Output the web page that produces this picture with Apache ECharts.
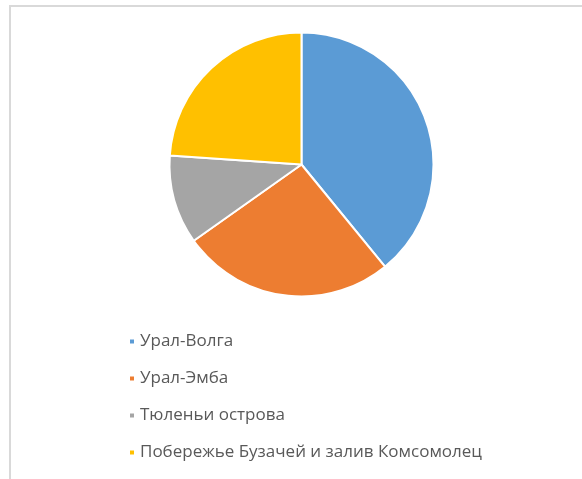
<!DOCTYPE html>
<html>
<head>
<meta charset="utf-8">
<script src="https://cdn.jsdelivr.net/npm/echarts@6/dist/echarts.min.js"></script>
<style>
html,body{margin:0;padding:0;background:#fff;}
#chart{width:582px;height:479px;}
</style>
</head>
<body>
<div id="chart"></div>
<script>
const categories = ["Урал-Волга", "Урал-Эмба", "Тюленьи острова", "Побережье Бузачей и залив Комсомолец"];
const values = [39.1, 26.1, 10.9, 23.9];
const colors = ["#5B9BD5", "#ED7D31", "#A5A5A5", "#FFC000"];

const chart = echarts.init(document.getElementById('chart'), null, {renderer: 'canvas'});
chart.setOption({
  animation: false,
  backgroundColor: '#ffffff',
  color: colors,
  graphic: [{
    type: 'rect',
    shape: {x: 10, y: 6, width: 700, height: 600},
    style: {fill: 'none', stroke: '#d9d9d9', lineWidth: 2},
    silent: true
  }],
  legend: {
    orient: 'vertical',
    left: 128,
    top: 333,
    padding: 0,
    itemGap: 20,
    itemWidth: 6,
    itemHeight: 6,
    icon: 'rect',
    textStyle: {color: '#595959', fontSize: 17, lineHeight: 17, fontFamily: 'Open Sans'},
    data: categories
  },
  series: [{
    type: 'pie',
    center: [301.5, 164.5],
    radius: 132,
    startAngle: 90,
    clockwise: true,
    label: {show: false},
    labelLine: {show: false},
    emphasis: {disabled: true},
    itemStyle: {borderColor: '#ffffff', borderWidth: 2},
    data: categories.map((c, i) => ({name: c, value: values[i]}))
  }]
});
</script>
</body>
</html>
